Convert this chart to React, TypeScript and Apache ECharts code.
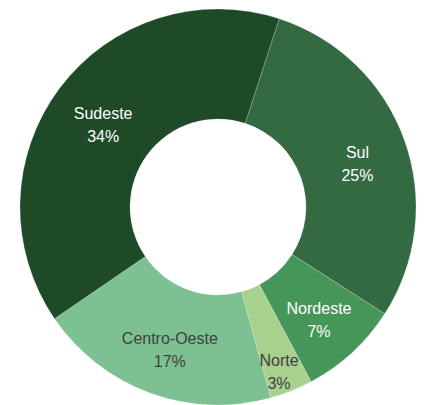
import React, { useEffect, useRef } from "react";
import * as echarts from "echarts";

const regions = ["Sul", "Nordeste", "Norte", "Centro-Oeste", "Sudeste"];
const shares = [25, 7, 3, 17, 34];
const colors = ["#336a41", "#46965a", "#a9d18e", "#7dc192", "#1e4a28"];
const labelColors = ["#ffffff", "#ffffff", "#404040", "#404040", "#ffffff"];

export default function App() {
  const ref = useRef<HTMLDivElement>(null);
  useEffect(() => {
    if (!ref.current) return;
    const chart = echarts.init(ref.current, null, { renderer: "svg" });
    const font = "Liberation Sans";
    chart.setOption({
      animation: false,
      backgroundColor: "#ffffff",
      series: [
        {
          type: "pie",
          center: [218, 207],
          radius: [88, 198],
          startAngle: 72,
          clockwise: true,
          avoidLabelOverlap: false,
          itemStyle: { borderColor: "rgba(255,255,255,0.4)", borderWidth: 0.5 },
          label: {
            show: true,
            position: "inside",
            formatter: "{b}\n{c}%",
            fontFamily: font,
            fontSize: 16,
            lineHeight: 23,
            offset: [2, 6],
          },
          labelLine: { show: false },
          data: regions.map((name, i) => {
            const item: any = {
              name,
              value: shares[i],
              itemStyle: { color: colors[i] },
              label: { color: labelColors[i] },
            };
            if (name === "Norte") {
              item.label = {
                position: "outside",
                color: labelColors[i],
                offset: [0, 0],
                distanceToLabelLine: -27,
                formatter: "{a|{b}}\n{a|{c}%}",
                rich: {
                  a: {
                    width: 44,
                    align: "center",
                    fontFamily: font,
                    fontSize: 16,
                    lineHeight: 23,
                    color: labelColors[i],
                  },
                },
              };
              item.labelLine = { show: false, length: -20, length2: 0 };
            }
            return item;
          }),
        },
      ],
    });
    return () => chart.dispose();
  }, []);
  return (
    <div
      ref={ref}
      style={{ position: "fixed", left: 0, top: 0, width: 427, height: 405 }}
    />
  );
}
